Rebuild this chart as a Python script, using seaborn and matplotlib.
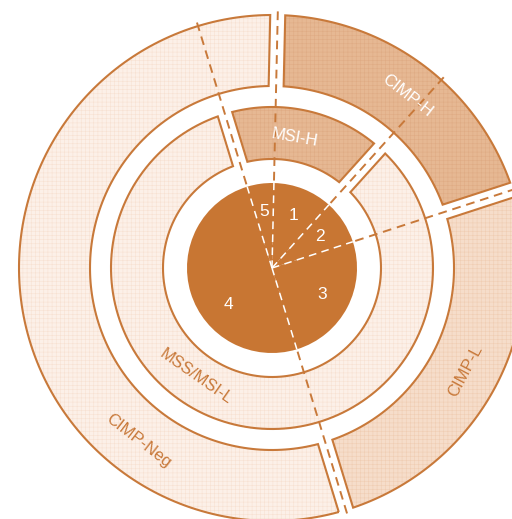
import numpy as np
import matplotlib.pyplot as plt
import seaborn as sns
from matplotlib.patches import Polygon

sns.set_theme(style='white')
plt.rcParams['font.family'] = ['Liberation Sans', 'DejaVu Sans']
plt.rcParams['hatch.linewidth'] = 0.4

# 数据：五个亚组所占角度（度），按顺时针顺序，从罗盘角 -17° 开始
groups = ['5', '1', '2', '3', '4']
group_deg = [18.3, 40.7, 30.0, 91.0, 180.0]
start_deg = -17.0
label_angle_fix = {'4': 230.0}   # 数字“4”不在扇区正中

# 中间环：MSI 状态
msi_names = ['MSI-H', 'MSS/MSI-L']
msi_groups = [['5', '1'], ['2', '3', '4']]
msi_label_angle = [10.0, 215.0]

# 外环：CIMP 状态
cimp_names = ['CIMP-H', 'CIMP-L', 'CIMP-Neg']
cimp_groups = [['1', '2'], ['3'], ['4', '5']]
cimp_label_angle = [38.0, 118.0, 217.7]

# 颜色（填充色, 网格色）
orange = '#C8793A'
pie_color = '#C87633'
fills = {'MSI-H': ('#E6B893', '#DFAB84'), 'MSS/MSI-L': ('#FCF0E8', '#F7E1D2'),
         'CIMP-H': ('#E6B893', '#DFAB84'), 'CIMP-L': ('#F6DDCA', '#F0CDB3'),
         'CIMP-Neg': ('#FCF0E8', '#F7E1D2')}
text_color = {'MSI-H': 'white', 'CIMP-H': 'white', 'MSS/MSI-L': orange,
              'CIMP-L': orange, 'CIMP-Neg': orange}

cx, cy = 272, 251
r_pie = 85
r_mid = (109, 161)
r_out = (182, 253)
half_gap = 7.5

# 每组的起始角
starts = {}
a = start_deg
for g, d in zip(groups, group_deg):
    starts[g] = a
    a += d
size = dict(zip(groups, group_deg))


def pt(theta, r):
    t = np.radians(theta)
    return cx + r * np.sin(t), cy + r * np.cos(t)


def ring_segment(t1, t2, rin, rout, hg, n=150):
    o1 = t1 + np.degrees(np.arcsin(hg / rout))
    o2 = t2 - np.degrees(np.arcsin(hg / rout))
    i1 = t1 + np.degrees(np.arcsin(hg / rin))
    i2 = t2 - np.degrees(np.arcsin(hg / rin))
    outer = np.linspace(o1, o2, n)
    inner = np.linspace(i2, i1, n)
    xo, yo = pt(outer, rout)
    xi, yi = pt(inner, rin)
    return np.column_stack([np.concatenate([xo, xi]), np.concatenate([yo, yi])])


fig = plt.figure(figsize=(5.12, 5.19), dpi=100)
ax = fig.add_axes([0, 0, 1, 1])

# 中心饼图
ax.pie(group_deg, startangle=90 - start_deg, counterclock=False, radius=r_pie,
       center=(cx, cy), colors=[pie_color] * len(groups),
       wedgeprops=dict(linewidth=0, zorder=3))

for g in groups:
    ang = label_angle_fix.get(g, starts[g] + size[g] / 2)
    x, y = pt(ang, 57)
    ax.text(x, y, g, color='white', fontsize=12.5, ha='center', va='center', zorder=6)

# 两个环
rings = [(msi_names, msi_groups, msi_label_angle, r_mid, 132),
         (cimp_names, cimp_groups, cimp_label_angle, r_out, 219)]
for names, members, lab_ang, (rin, rout), r_text in rings:
    for name, mem, la in zip(names, members, lab_ang):
        t1 = starts[mem[0]]
        t2 = t1 + sum(size[m] for m in mem)
        verts = ring_segment(t1, t2, rin, rout, half_gap)
        fc, hc = fills[name]
        ax.add_patch(Polygon(verts, closed=True, facecolor=fc, edgecolor=hc,
                             linewidth=0, hatch='++++', zorder=1))
        ax.add_patch(Polygon(verts, closed=True, fill=False, edgecolor=orange,
                             linewidth=1.5, zorder=2))
        rot = -la if -90 < la < 90 else 180 - la
        x, y = pt(la, r_text)
        ax.text(x, y, name, color=text_color[name], fontsize=12, ha='center',
                va='center', rotation=rot, rotation_mode='anchor', zorder=6)

# 虚线分界
for g in groups:
    th = starts[g]
    x0, y0 = pt(th, 0)
    x1, y1 = pt(th, 262)
    ax.plot([x0, x1], [y0, y1], color=orange, lw=1.4, ls=(0, (4.5, 3)), zorder=2.5)
    x2, y2 = pt(th, r_pie)
    ax.plot([x0, x2], [y0, y2], color='white', lw=1.1, ls=(0, (5, 3.5)), zorder=4)

ax.set_xlim(0, 512)
ax.set_ylim(0, 519)
ax.set_aspect('equal')
ax.axis('off')

plt.savefig('out.png', dpi=100)
